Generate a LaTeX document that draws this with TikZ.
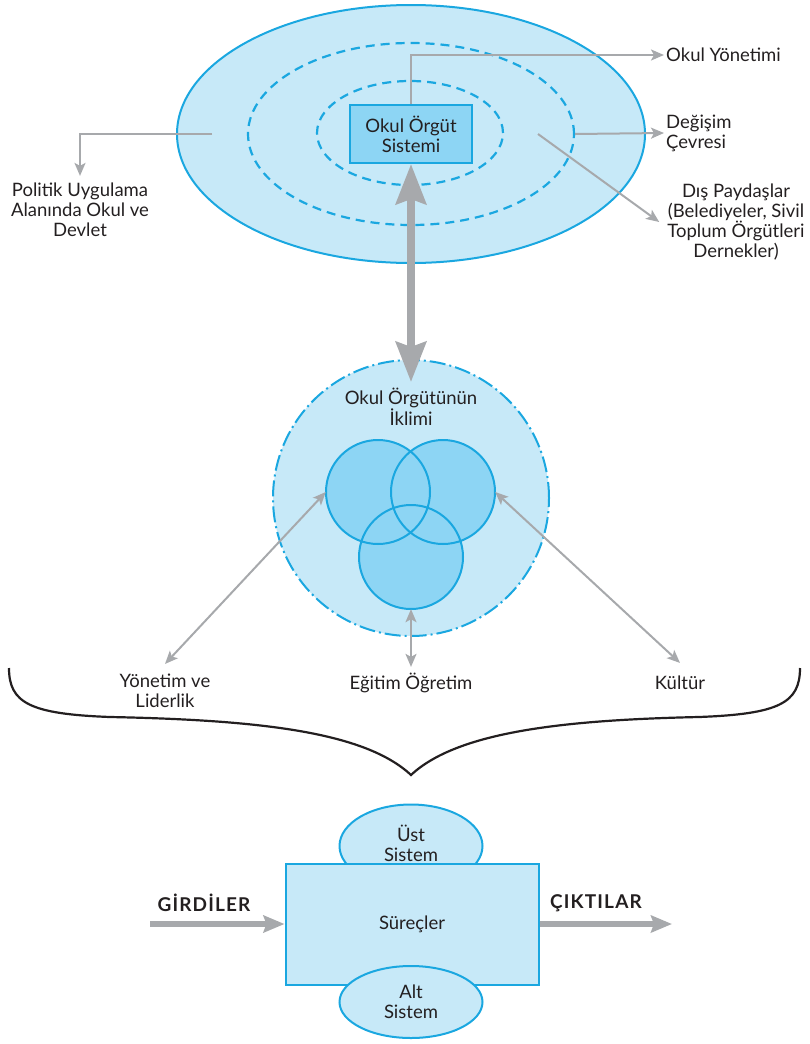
\documentclass[tikz,border=0pt]{standalone}
\usepackage{fontspec}
\setmainfont{Lato}
\usetikzlibrary{shapes.geometric,arrows.meta,calc}
\definecolor{lblue}{HTML}{C7E9F8}
\definecolor{mblue}{HTML}{8DD5F4}
\definecolor{sblue}{HTML}{1AA7E0}
\definecolor{agray}{HTML}{A7A9AC}
\definecolor{txt}{HTML}{231F20}
\begin{document}
\begin{tikzpicture}[x=1pt,y=-1pt,
  font=\fontsize{18.5}{20}\selectfont, text=txt,
  lbl/.style={align=center, inner sep=0pt},
  tarr/.style={draw=agray, line width=2pt, -{Stealth[length=13pt,width=11pt,inset=3pt]}},
  tarrb/.style={draw=agray, line width=2pt, {Stealth[length=13pt,width=11pt,inset=3pt]}-{Stealth[length=13pt,width=11pt,inset=3pt]}},
  bigarr/.style={draw=agray, line width=8pt, {Stealth[length=40pt,width=30pt,inset=5pt]}-{Stealth[length=40pt,width=30pt,inset=5pt]}},
  ioarr/.style={draw=agray, line width=5.5pt, -{Stealth[length=21pt,width=17pt,inset=3pt]}},
  dashell/.style={ellipse, draw=sblue, line width=2.2pt, dash pattern=on 9pt off 6pt, inner sep=0pt},
  smallc/.style={circle, fill=mblue, minimum size=104pt, inner sep=0pt},
  bluebox/.style={draw=sblue, line width=2pt, inner sep=0pt, align=center},
  blueell/.style={ellipse, draw=sblue, fill=lblue, line width=2pt, inner sep=0pt, align=center},
  iotext/.style={font=\fontsize{19}{20}\selectfont\bfseries\addfontfeatures{LetterSpace=6}, inner sep=0pt}
]
\useasboundingbox (0,0) rectangle (809,1044);

% ---------- top system ----------
\node[blueell, minimum width=468pt, minimum height=258pt] (outer) at (411,134) {};
\node[dashell, minimum width=326pt, minimum height=182pt] (mid) at (411,134) {};
\node[dashell, minimum width=186pt, minimum height=104pt] (inner) at (410,133) {};
\node[bluebox, fill=mblue, minimum width=122pt, minimum height=58pt] (core) at (411,134) {Okul Örgüt\\Sistemi};

\node[anchor=west, inner sep=2pt] (oy) at (664,55) {Okul Yönetimi};
\node[anchor=west, align=left, inner sep=2pt] (dc) at (664,133) {Değişim\\Çevresi};
\node[lbl, inner xsep=8pt] (dp) at (736,222) {Dış Paydaşlar\\(Belediyeler, Sivil\\Toplum Örgütleri\\Dernekler)};
\node[lbl, inner ysep=7pt] (pol) at (80,210) {Politik Uygulama\\Alanında Okul ve\\Devlet};

\coordinate (dps) at (538,134);
\coordinate (pols) at (212,134);

\draw[tarr] (core.north) |- (oy.west);
\draw[tarr] (mid.east) -- (dc.west);
\draw[tarr] (dps) -- (dp.west);
\draw[tarr] (pols) -| (pol.north);

% ---------- climate ----------
\node[circle, draw=sblue, fill=lblue, line width=2pt, dash pattern=on 16pt off 4pt on 2pt off 4pt, minimum size=276pt, inner sep=0pt] (clim) at (411,498) {};
\node[lbl] (climt) at (411,407) {Okul Örgütünün\\İklimi};

\node[smallc] (c1) at (378,492) {};
\node[smallc] (c2) at (443,492) {};
\node[smallc] (c3) at (411,557) {};
\draw[sblue, line width=2pt] (c1.center) circle (52) (c2.center) circle (52) (c3.center) circle (52);

\draw[bigarr] (core.south) -- ([yshift=-23pt]clim.north);

\node[lbl, inner ysep=10pt] (yl) at (165,691) {Yönetim ve\\Liderlik};
\node[lbl, inner ysep=6pt] (eo) at (411,683) {Eğitim Öğretim};
\node[lbl, inner ysep=13pt] (kul) at (680,683) {Kültür};

\draw[tarrb] (c1.west) -- (yl.north);
\draw[tarrb] (c3.south) -- (eo.north);
\draw[tarrb] (c2.east) -- (kul.north);

% ---------- brace ----------
\draw[txt, line width=2.2pt] (9,668) .. controls (9,703) and (30,714) .. (110,717)
  .. controls (260,720) and (365,732) .. (411,775)
  .. controls (457,732) and (562,720) .. (699,717)
  .. controls (779,714) and (800,703) .. (800,668);

% ---------- bottom system ----------
\node[blueell, minimum width=143pt, minimum height=83pt] (ust) at (411,846) {};
\node[bluebox, fill=lblue, minimum width=253pt, minimum height=121pt] (sys) at (412,924) {Süreçler};
\node[lbl] (usttxt) at (411,843) {Üst\\Sistem};
\node[blueell, minimum width=143pt, minimum height=72pt] (alt) at (411,1002) {Alt\\Sistem};

\node[iotext] (gir) at (204,903) {GİRDİLER};
\node[iotext] (cik) at (596,903) {ÇIKTILAR};
\coordinate (girs) at (150,924);
\coordinate (cike) at (672,924);
\draw[ioarr] (girs) -- (sys.west);
\draw[ioarr] (sys.east) -- (cike);
\end{tikzpicture}
\end{document}
